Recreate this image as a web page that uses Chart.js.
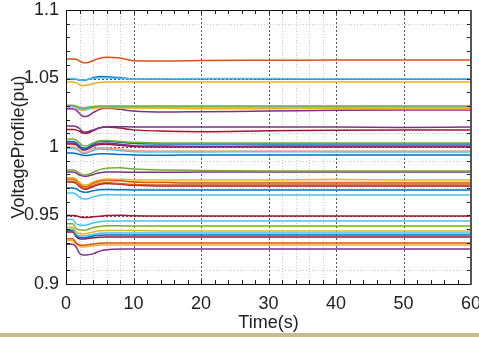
<!DOCTYPE html>
<html>
<head>
<meta charset="utf-8">
<script src="https://cdn.jsdelivr.net/npm/chart.js@4/dist/chart.umd.min.js"></script>
<style>
html,body{margin:0;padding:0;background:#fff;}
#wrap{position:relative;width:479px;height:337px;overflow:hidden;}
#strip{position:absolute;left:0;top:333px;width:479px;height:4px;background:#c8bc8f;}
</style>
</head>
<body>
<div id="wrap"><canvas id="c" width="479" height="337"></canvas><div id="strip"></div></div>
<script>
// time samples (s)
const T = [0,1,1.5,2,2.5,3,4,5,6,8,10,15,20,30,40,50,60];
const xTickLabels = ['0','10','20','30','40','50','60'];
const yTickLabels = ['0.9','0.95','1','1.05','1.1'];
const minorX = [2,4,6,8,32,34,36,38];
const minorY = [0.91,0.97,0.99,1.01,1.09];
const majorX = [10,20,30,40,50];
const majorY = [0.95,1.0,1.05];

// bus voltages (pu)
const bus01 = [1.0642,1.0642,1.0640,1.0628,1.0617,1.0615,1.0630,1.0648,1.0655,1.0650,1.0630,1.0628,1.0632,1.0633,1.0635,1.0635,1.0635];
const bus02 = [1.0500,1.0500,1.0497,1.0490,1.0488,1.0492,1.0500,1.0505,1.0503,1.0500,1.0497,1.0498,1.0500,1.0500,1.0498,1.0498,1.0498];
const bus03 = [1.0496,1.0496,1.0494,1.0489,1.0486,1.0490,1.0505,1.0515,1.0512,1.0505,1.0496,1.0496,1.0498,1.0497,1.0496,1.0496,1.0496];
const bus04 = [1.0474,1.0474,1.0470,1.0455,1.0447,1.0450,1.0462,1.0470,1.0474,1.0475,1.0475,1.0474,1.0474,1.0474,1.0474,1.0474,1.0474];
const bus05 = [1.0305,1.0305,1.0300,1.0290,1.0285,1.0288,1.0295,1.0300,1.0300,1.0300,1.0299,1.0299,1.0299,1.0299,1.0300,1.0300,1.0300];
const bus06 = [1.0299,1.0299,1.0292,1.0280,1.0275,1.0280,1.0290,1.0293,1.0292,1.0292,1.0292,1.0292,1.0292,1.0292,1.0292,1.0292,1.0292];
const bus07 = [1.0292,1.0292,1.0285,1.0272,1.0268,1.0272,1.0282,1.0287,1.0287,1.0285,1.0285,1.0283,1.0280,1.0280,1.0282,1.0280,1.0280];
const bus08 = [1.0280,1.0278,1.0270,1.0245,1.0225,1.0222,1.0250,1.0275,1.0282,1.0275,1.0262,1.0255,1.0258,1.0262,1.0268,1.0270,1.0270];
const bus09 = [1.0153,1.0153,1.0150,1.0135,1.0112,1.0110,1.0125,1.0140,1.0148,1.0148,1.0146,1.0146,1.0146,1.0146,1.0146,1.0142,1.0146];
const bus10 = [1.0128,1.0128,1.0125,1.0115,1.0102,1.0100,1.0118,1.0140,1.0146,1.0138,1.0125,1.0115,1.0112,1.0118,1.0122,1.0124,1.0124];
const bus11 = [1.0058,1.0058,1.0050,1.0030,1.0010,1.0008,1.0030,1.0045,1.0048,1.0040,1.0035,1.0030,1.0030,1.0030,1.0029,1.0029,1.0029];
const bus12 = [1.0040,1.0040,1.0032,1.0010,0.9990,0.9992,1.0020,1.0040,1.0042,1.0035,1.0025,1.0022,1.0022,1.0022,1.0022,1.0022,1.0022];
const bus13 = [1.0030,1.0030,1.0022,1.0000,0.9982,0.9985,1.0010,1.0025,1.0030,1.0020,1.0010,1.0007,1.0005,1.0007,1.0007,1.0007,1.0007];
const bus14 = [1.0022,1.0022,1.0015,0.9995,0.9978,0.9980,1.0005,1.0018,1.0020,1.0012,1.0003,1.0000,1.0000,1.0000,1.0000,1.0000,1.0000];
const bus15 = [1.0000,1.0000,0.9993,0.9975,0.9960,0.9962,0.9985,0.9995,0.9993,0.9985,0.9975,0.9971,0.9971,0.9971,0.9971,0.9971,0.9971];
const bus16 = [0.9990,0.9990,0.9985,0.9968,0.9952,0.9955,0.9975,0.9985,0.9982,0.9975,0.9966,0.9964,0.9964,0.9966,0.9964,0.9964,0.9964];
const bus17 = [0.9956,0.9956,0.9952,0.9945,0.9940,0.9938,0.9945,0.9950,0.9950,0.9946,0.9942,0.9940,0.9942,0.9942,0.9942,0.9942,0.9942];
const bus18 = [0.9832,0.9832,0.9825,0.9808,0.9798,0.9796,0.9815,0.9835,0.9845,0.9848,0.9840,0.9832,0.9828,0.9825,0.9825,0.9825,0.9825];
const bus19 = [0.9818,0.9818,0.9810,0.9795,0.9788,0.9786,0.9800,0.9812,0.9818,0.9818,0.9815,0.9815,0.9818,0.9818,0.9818,0.9818,0.9818];
const bus20 = [0.9775,0.9775,0.9765,0.9742,0.9725,0.9722,0.9745,0.9760,0.9766,0.9765,0.9760,0.9759,0.9759,0.9759,0.9762,0.9759,0.9759];
const bus21 = [0.9766,0.9766,0.9755,0.9730,0.9712,0.9710,0.9735,0.9752,0.9760,0.9755,0.9745,0.9740,0.9737,0.9737,0.9737,0.9737,0.9737];
const bus22 = [0.9759,0.9759,0.9750,0.9728,0.9712,0.9710,0.9730,0.9745,0.9750,0.9748,0.9745,0.9745,0.9745,0.9745,0.9745,0.9745,0.9745];
const bus23 = [0.9752,0.9752,0.9742,0.9718,0.9700,0.9698,0.9720,0.9735,0.9740,0.9732,0.9726,0.9723,0.9723,0.9723,0.9723,0.9723,0.9723];
const bus24 = [0.9745,0.9745,0.9735,0.9710,0.9695,0.9692,0.9712,0.9728,0.9733,0.9728,0.9720,0.9715,0.9715,0.9715,0.9715,0.9715,0.9715];
const bus25 = [0.9701,0.9701,0.9695,0.9680,0.9672,0.9670,0.9680,0.9688,0.9690,0.9688,0.9686,0.9686,0.9686,0.9686,0.9686,0.9686,0.9686];
const bus26 = [0.9664,0.9664,0.9655,0.9635,0.9622,0.9620,0.9635,0.9648,0.9652,0.9650,0.9650,0.9650,0.9650,0.9650,0.9650,0.9650,0.9650];
const bus27 = [0.9500,0.9500,0.9498,0.9490,0.9485,0.9485,0.9490,0.9495,0.9500,0.9502,0.9498,0.9496,0.9496,0.9496,0.9496,0.9496,0.9496];
const bus28 = [0.9470,0.9470,0.9440,0.9430,0.9428,0.9430,0.9445,0.9455,0.9460,0.9460,0.9460,0.9460,0.9460,0.9460,0.9460,0.9460,0.9460];
const bus29 = [0.9440,0.9440,0.9405,0.9395,0.9392,0.9395,0.9410,0.9420,0.9425,0.9425,0.9423,0.9423,0.9423,0.9423,0.9423,0.9423,0.9423];
const bus30 = [0.9415,0.9415,0.9380,0.9368,0.9365,0.9368,0.9380,0.9388,0.9390,0.9390,0.9390,0.9387,0.9387,0.9387,0.9387,0.9387,0.9387];
const bus31 = [0.9400,0.9400,0.9365,0.9352,0.9350,0.9352,0.9362,0.9370,0.9372,0.9372,0.9372,0.9372,0.9372,0.9372,0.9372,0.9372,0.9372];
const bus32 = [0.9390,0.9390,0.9355,0.9340,0.9338,0.9340,0.9350,0.9356,0.9358,0.9358,0.9358,0.9358,0.9358,0.9358,0.9358,0.9358,0.9358];
const bus33 = [0.9380,0.9380,0.9345,0.9330,0.9328,0.9330,0.9338,0.9342,0.9343,0.9343,0.9343,0.9343,0.9343,0.9343,0.9343,0.9343,0.9343];
const bus34 = [0.9330,0.9330,0.9300,0.9285,0.9282,0.9285,0.9292,0.9298,0.9300,0.9300,0.9300,0.9300,0.9300,0.9300,0.9300,0.9300,0.9300];
const bus35 = [0.9318,0.9318,0.9290,0.9275,0.9270,0.9272,0.9280,0.9285,0.9285,0.9285,0.9285,0.9285,0.9285,0.9285,0.9285,0.9285,0.9285];
const bus36 = [0.9290,0.9290,0.9270,0.9225,0.9212,0.9212,0.9220,0.9240,0.9250,0.9255,0.9255,0.9255,0.9255,0.9255,0.9255,0.9255,0.9255];

const buses = [bus01,bus02,bus03,bus04,bus05,bus06,bus07,bus08,bus09,bus10,bus11,bus12,bus13,bus14,bus15,bus16,bus17,bus18,bus19,bus20,bus21,bus22,bus23,bus24,bus25,bus26,bus27,bus28,bus29,bus30,bus31,bus32,bus33,bus34,bus35,bus36];
const busColors = ['#D95319','#4DBEEE','#0072BD','#EDB120','#77AC30','#4DBEEE','#EDB120','#7E2F8E','#7E2F8E','#A2142F',
  '#77AC30','#0072BD','#7E2F8E','#A2142F','#F0A080','#4DBEEE','#0072BD','#77AC30','#7E2F8E','#EDB120',
  '#D95319','#F5D080','#D95319','#A2142F','#0072BD','#4DBEEE','#A2142F','#4DBEEE','#77AC30','#EDB120',
  '#4DBEEE','#0072BD','#A2142F','#D95319','#EDB120','#7E2F8E'];

const datasets = buses.map((b,i)=>({
  data: b.map((v,k)=>({x:T[k], y:v})),
  borderColor: busColors[i],
  borderWidth: 1.5,
  pointRadius: 0,
  fill: false,
  cubicInterpolationMode: 'monotone'
}));

const FONT = "'Liberation Sans', Arial, sans-serif";

const axesDeco = {
  id: 'axesDeco',
  beforeDatasetsDraw(chart){
    const {ctx, chartArea:a, scales:{x,y}} = chart;
    ctx.save();
    ctx.lineWidth = 1;
    ctx.strokeStyle = '#c8c8c8';
    ctx.setLineDash([1,2]);
    minorX.forEach(v=>{const p=Math.round(x.getPixelForValue(v))+0.5;ctx.beginPath();ctx.moveTo(p,a.top);ctx.lineTo(p,a.bottom);ctx.stroke();});
    minorY.forEach(v=>{const p=Math.round(y.getPixelForValue(v))+0.5;ctx.beginPath();ctx.moveTo(a.left,p);ctx.lineTo(a.right,p);ctx.stroke();});
    ctx.strokeStyle = '#555';
    ctx.setLineDash([2,2]);
    majorX.forEach(v=>{const p=Math.round(x.getPixelForValue(v))+0.5;ctx.beginPath();ctx.moveTo(p,a.top);ctx.lineTo(p,a.bottom);ctx.stroke();});
    majorY.forEach(v=>{const p=Math.round(y.getPixelForValue(v))+0.5;ctx.beginPath();ctx.moveTo(a.left,p);ctx.lineTo(a.right,p);ctx.stroke();});
    ctx.restore();
  },
  afterDatasetsDraw(chart){
    const {ctx, chartArea:a, scales:{x,y}} = chart;
    ctx.save();
    ctx.setLineDash([]);
    ctx.strokeStyle = '#222';
    ctx.lineWidth = 1;
    for(let v=0; v<=60; v+=2){
      const p=Math.round(x.getPixelForValue(v))+0.5;
      ctx.beginPath();ctx.moveTo(p,a.bottom);ctx.lineTo(p,a.bottom-4);ctx.moveTo(p,a.top);ctx.lineTo(p,a.top+4);ctx.stroke();
    }
    for(let k=0; k<=20; k++){
      const p=Math.round(y.getPixelForValue(0.9+k*0.01))+0.5;
      ctx.beginPath();ctx.moveTo(a.left,p);ctx.lineTo(a.left+4,p);ctx.moveTo(a.right,p);ctx.lineTo(a.right-4,p);ctx.stroke();
    }
    ctx.strokeStyle = '#111';
    ctx.strokeRect(Math.round(a.left)+0.5, Math.round(a.top)+0.5, Math.round(a.right-a.left)-1, Math.round(a.bottom-a.top));
    ctx.strokeStyle = '#555';
    ctx.lineWidth = 2;
    ctx.beginPath();ctx.moveTo(Math.round(a.right),a.top);ctx.lineTo(Math.round(a.right),a.bottom+1);ctx.stroke();
    ctx.restore();
  }
};

new Chart(document.getElementById('c'), {
  type: 'line',
  data: { datasets },
  plugins: [axesDeco],
  options: {
    responsive: false,
    animation: false,
    devicePixelRatio: 1,
    layout: { padding: { top: 10, right: 8, left: 0, bottom: 0 } },
    plugins: { legend: { display: false }, tooltip: { enabled: false } },
    scales: {
      x: {
        type: 'linear', min: 0, max: 60,
        ticks: { stepSize: 10, padding: 9, color: '#222', maxRotation: 0, autoSkip: false,
          font: { family: FONT, size: 18 }, callback: (v,i)=>xTickLabels[i] },
        grid: { display: false, drawTicks: false },
        border: { display: false },
        title: { display: true, text: 'Time(s)', color: '#222', font: { family: FONT, size: 18 }, padding: { top: 0, bottom: 3 } },
        afterFit(s){ s.height = 53; s.paddingLeft = 0; s.paddingRight = 0; }
      },
      y: {
        type: 'linear', min: 0.9, max: 1.1,
        ticks: { stepSize: 0.05, padding: 7, color: '#222',
          font: { family: FONT, size: 18 }, callback: (v,i)=>yTickLabels[i] },
        grid: { display: false, drawTicks: false },
        border: { display: false },
        title: { display: true, text: 'VoltageProfile(pu)', color: '#222', font: { family: FONT, size: 18 }, padding: { top: 8, bottom: 0 } },
        afterFit(s){ s.width = 66; s.paddingTop = 0; s.paddingBottom = 0; }
      }
    }
  }
});
</script>
</body>
</html>
